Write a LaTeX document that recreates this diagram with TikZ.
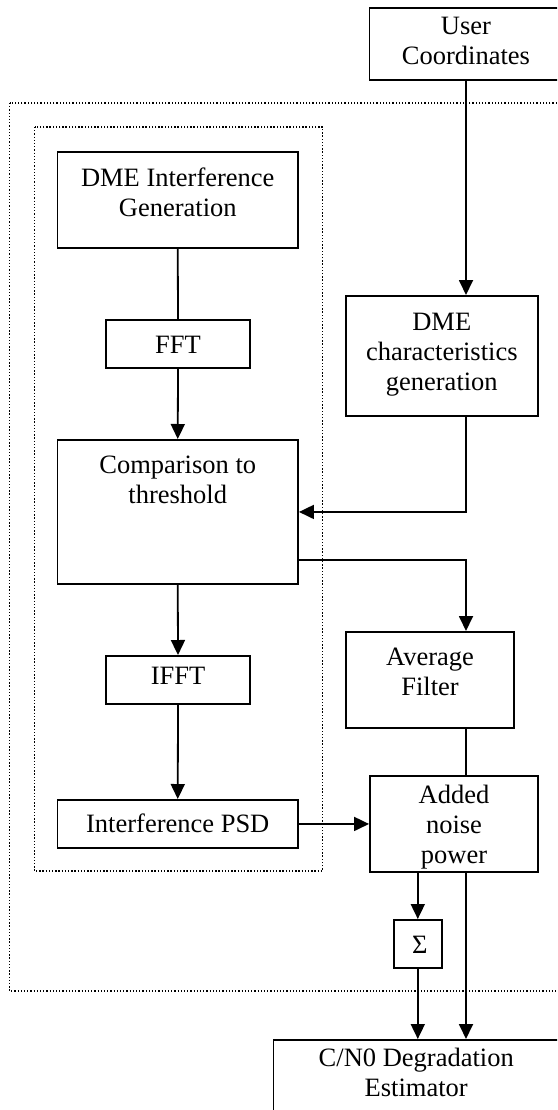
\documentclass[tikz,border=0pt]{standalone}
\usepackage{fontspec}
\setmainfont{Liberation Serif}
\usetikzlibrary{arrows.meta}
\newcommand\tl[1]{\begin{tabular}[t]{@{}c@{}}#1\end{tabular}}
\begin{document}
\begin{tikzpicture}[x=1pt,y=-1pt,
  blk/.style={draw, line width=1.9pt, inner sep=0pt, anchor=north, fill=white,
    font=\fontsize{26.5}{30}\selectfont},
  conn/.style={line width=1.8pt},
  arr/.style={conn, -{Triangle[length=15pt,width=14pt]}},
  dotbox/.style={line width=1.3pt, dash pattern=on 1.3pt off 1.9pt},
]
\useasboundingbox (0,0) rectangle (557,1110);
\clip (0,0) rectangle (557,1110);
% dotted containers
\draw[dotbox] (9.6,103) rectangle (600,991);
\draw[dotbox] (34.5,127) rectangle (322.6,871);
% blocks
\node[blk, minimum width=193pt, text height=27pt, text depth=45pt] (user) at (466,7) {\tl{User\\Coordinates}};
\node[blk, minimum width=240.5pt, text height=35pt, text depth=61pt] (dmei) at (177.75,151) {\tl{DME Interference\\Generation}};
\node[blk, minimum width=144pt, text height=34pt, text depth=14pt] (fft) at (178,319) {\tl{FFT}};
\node[blk, minimum width=192.4pt, text height=35pt, text depth=85pt] (dmec) at (441.8,295) {\tl{DME\\characteristics\\generation}};
\node[blk, minimum width=240.5pt, text height=34pt, text depth=110pt] (cmp) at (177.75,439) {\tl{Comparison to\\threshold}};
\node[blk, minimum width=144pt, text height=29pt, text depth=19pt] (ifft) at (178,655) {\tl{IFFT}};
\node[blk, minimum width=168.8pt, text height=34pt, text depth=62pt] (avg) at (430,631) {\tl{Average\\Filter}};
\node[blk, minimum width=168pt, text height=28pt, text depth=68pt] (add) at (454,775) {\tl{Added\\noise\\power}};
\node[blk, minimum width=240.5pt, text height=33pt, text depth=15pt] (psd) at (177.75,799) {\tl{Interference PSD}};
\node[blk, minimum width=48.4pt, text height=34pt, text depth=14pt] (sig) at (417.8,919) {\tl{\hspace{4pt}Σ}};
\node[blk, minimum width=285.5pt, text height=27pt, text depth=70pt] (cn) at (416.25,1039) {\tl{C/N0 Degradation\\Estimator}};
% connectors
\draw[arr] (user.south) -- (user.south |- dmec.north);
\draw[conn] (dmei.south) -- (fft.north);
\draw[arr] (fft.south) -- (cmp.north);
\draw[arr] (user.south |- dmec.south) |- (cmp.east);
\draw[arr] ([yshift=-48pt]cmp.east) -| (user.south |- avg.north);
\draw[arr] (cmp.south) -- (ifft.north);
\draw[arr] (ifft.south) -- (psd.north);
\draw[conn] (user.south |- avg.south) -- (user.south |- add.north);
\draw[arr] (psd.east) -- (add.west);
\draw[arr] (sig.north |- add.south) -- (sig.north);
\draw[arr] (sig.south) -- (sig.south |- cn.north);
\draw[arr] (user.south |- add.south) -- (user.south |- cn.north);
\end{tikzpicture}
\end{document}
